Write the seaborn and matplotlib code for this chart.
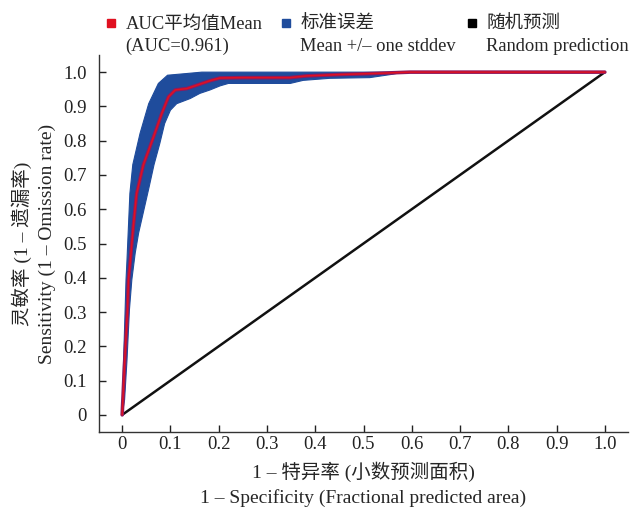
import numpy as np
import pandas as pd
import seaborn as sns
import matplotlib
matplotlib.use("Agg")
import matplotlib.pyplot as plt
from matplotlib.lines import Line2D

# ------------------------------------------------------------------------------
# data
# ------------------------------------------------------------------------------
mean_fpr = [0, 0.005, 0.011, 0.013, 0.017, 0.023, 0.030, 0.044, 0.065, 0.082, 0.096,
            0.110, 0.134, 0.155, 0.182, 0.203, 0.25, 0.348, 0.382, 0.451, 0.52, 0.596, 1.0]
mean_tpr = [0, 0.151, 0.306, 0.394, 0.452, 0.549, 0.646, 0.730, 0.811, 0.879, 0.928,
            0.948, 0.952, 0.962, 0.975, 0.983, 0.984, 0.984, 0.989, 0.993, 0.996, 1.0, 1.0]

# upper (top-left) edge of the +/- one stddev band
upper_fpr = [0, 0.003, 0.008, 0.010, 0.013, 0.016, 0.022, 0.037, 0.055, 0.075, 0.094,
             0.134, 0.165, 0.60]
upper_tpr = [0, 0.160, 0.394, 0.452, 0.549, 0.646, 0.730, 0.821, 0.908, 0.967, 0.991,
             0.996, 1.0, 1.0]

# lower (bottom-right) edge of the band
lower_fpr = [0, 0.005, 0.010, 0.015, 0.020, 0.027, 0.034, 0.045, 0.056, 0.066, 0.078,
             0.088, 0.100, 0.113, 0.141, 0.161, 0.182, 0.203, 0.22, 0.348, 0.375, 0.43,
             0.513, 0.561, 0.582, 0.60]
lower_tpr = [0, 0.044, 0.160, 0.306, 0.394, 0.472, 0.530, 0.598, 0.666, 0.730, 0.792,
             0.850, 0.889, 0.908, 0.923, 0.938, 0.948, 0.960, 0.967, 0.967, 0.976, 0.982,
             0.984, 0.994, 1.0, 1.0]

random_fpr = [0, 1.0]
random_tpr = [0, 1.0]

ticks = [0, 0.1, 0.2, 0.3, 0.4, 0.5, 0.6, 0.7, 0.8, 0.9, 1.0]
tick_labels = ["0", "0.1", "0.2", "0.3", "0.4", "0.5", "0.6", "0.7", "0.8", "0.9", "1.0"]

auc_mean = 0.961

mean_df = pd.DataFrame({"fpr": mean_fpr, "tpr": mean_tpr})
random_df = pd.DataFrame({"fpr": random_fpr, "tpr": random_tpr})

# ------------------------------------------------------------------------------
# style
# ------------------------------------------------------------------------------
sns.set_style("ticks")
plt.rcParams["font.family"] = ["Liberation Serif", "Noto Sans CJK SC"]
plt.rcParams["axes.unicode_minus"] = False

RED = "#e01020"
BLUE = "#1f4c9c"
BLACK = "#000000"
FS = 14
LFS = 13.3

W, H = 636, 509
fig = plt.figure(figsize=(W / 100, H / 100), dpi=100)
ax = fig.add_axes([99 / W, 1 - 432 / H, 529 / W, 377 / H])

# band
band_x = np.concatenate([upper_fpr, lower_fpr[::-1]])
band_y = np.concatenate([upper_tpr, lower_tpr[::-1]])
ax.fill(band_x, band_y, color=BLUE, lw=0.8, ec=BLUE, zorder=1)

# random prediction
sns.lineplot(data=random_df, x="fpr", y="tpr", color="#111111", lw=1.8, ax=ax, zorder=2)

# mean curve (purple rim with red core)
sns.lineplot(data=mean_df, x="fpr", y="tpr", color="#8e1a5e", lw=2.6, ax=ax, zorder=3)
sns.lineplot(data=mean_df, x="fpr", y="tpr", color=RED, lw=1.1, ax=ax, zorder=4)

ax.set_xlim(-0.048, 1.048)
ax.set_ylim(-0.05, 1.05)
ax.set_xticks(ticks)
ax.set_xticklabels(tick_labels)
ax.set_yticks(ticks)
ax.set_yticklabels(tick_labels)
ax.tick_params(direction="in", length=5, width=1, labelsize=13.5, colors="#222222")
ax.tick_params(axis="x", pad=3)
ax.tick_params(axis="y", pad=9)
for s in ["top", "right"]:
    ax.spines[s].set_visible(False)
for s in ["left", "bottom"]:
    ax.spines[s].set_linewidth(1.0)
    ax.spines[s].set_color("#333333")

ax.set_xlabel("1 – 特异率 (小数预测面积)\n1 – Specificity (Fractional predicted area)",
              fontsize=FS, linespacing=1.5, labelpad=6)
ax.set_ylabel("灵敏率 (1 – 遗漏率)\nSensitivity (1 – Omission rate)",
              fontsize=FS, linespacing=1.5, labelpad=5)

# legend: one small legend per entry, second line of text underneath
colors = [RED, BLUE, BLACK]
first = ["AUC平均值Mean", "标准误差", "随机预测"]
second = [f"(AUC={auc_mean})", "Mean +/– one stddev", "Random prediction"]
legend_x = [106, 281, 467]
legs = []
for c, lab, lx in zip(colors, first, legend_x):
    h = Line2D([], [], marker="s", ls="", color=c, markersize=6)
    leg = fig.legend([h], [lab], loc="upper left", bbox_to_anchor=(lx / W, 1 - 16 / H),
                     frameon=False, fontsize=LFS, handlelength=0.5, handletextpad=0.55,
                     borderpad=0, borderaxespad=0)
    legs.append(leg)

fig.canvas.draw()
inv = fig.transFigure.inverted()
for leg, s2 in zip(legs, second):
    bb = leg.get_texts()[0].get_window_extent()
    x0, y0 = inv.transform((bb.x0, bb.y0 - 22))
    fig.text(x0, y0, s2, fontsize=LFS, va="bottom", ha="left")

fig.savefig("out.png", dpi=100)
